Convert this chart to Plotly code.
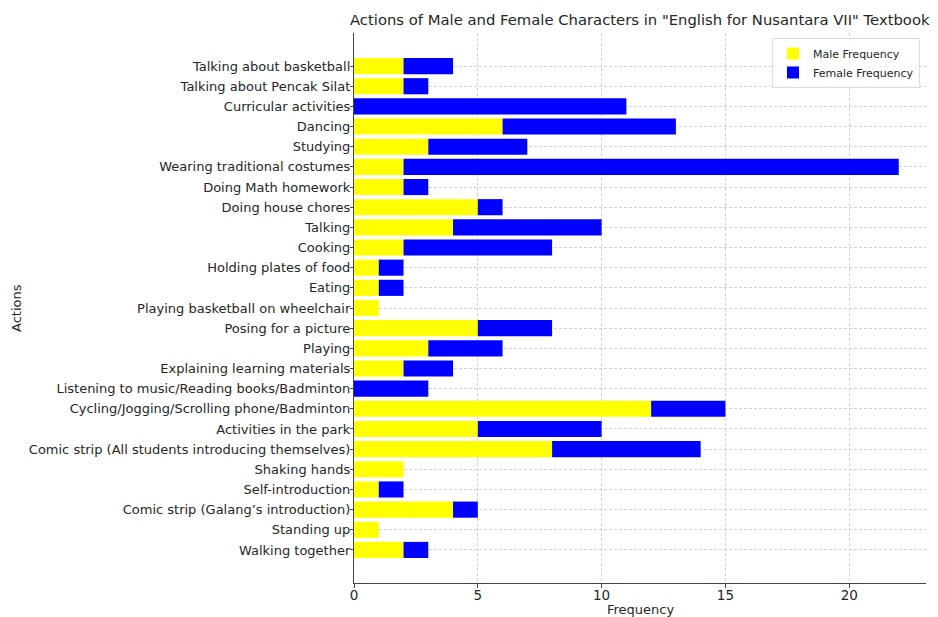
import plotly.graph_objects as go

actions = [
    "Talking about basketball",
    "Talking about Pencak Silat",
    "Curricular activities",
    "Dancing",
    "Studying",
    "Wearing traditional costumes",
    "Doing Math homework",
    "Doing house chores",
    "Talking",
    "Cooking",
    "Holding plates of food",
    "Eating",
    "Playing basketball on wheelchair",
    "Posing for a picture",
    "Playing",
    "Explaining learning materials",
    "Listening to music/Reading books/Badminton",
    "Cycling/Jogging/Scrolling phone/Badminton",
    "Activities in the park",
    "Comic strip (All students introducing themselves)",
    "Shaking hands",
    "Self-introduction",
    "Comic strip (Galang\u2019s introduction)",
    "Standing up",
    "Walking together",
]
male = [2, 2, 0, 6, 3, 2, 2, 5, 4, 2, 1, 1, 1, 5, 3, 2, 0, 12, 5, 8, 2, 1, 4, 1, 2]
female = [2, 1, 11, 7, 4, 20, 1, 1, 6, 6, 1, 1, 0, 3, 3, 2, 3, 3, 5, 6, 0, 1, 1, 0, 1]

# plot bottom-to-top
cats = actions[::-1]
m = male[::-1]
f = female[::-1]

fig = go.Figure()
fig.add_trace(go.Bar(y=cats, x=m, orientation="h", name="Male Frequency",
                     marker=dict(color="#ffff00", line=dict(width=0))))
fig.add_trace(go.Bar(y=cats, x=f, base=m, orientation="h", name="Female Frequency",
                     marker=dict(color="#0000ff", line=dict(width=0))))

font = "DejaVu Sans, Verdana, sans-serif"
L, R, T, B = 354, 926, 33, 583
PW, PH = R - L, B - T
fig.update_layout(
    width=938, height=617,
    margin=dict(l=L, r=938 - R, t=T, b=617 - B, autoexpand=False),
    paper_bgcolor="white", plot_bgcolor="white",
    barmode="overlay", bargap=0.2,
    font=dict(family=font, size=13, color="#262626"),
    showlegend=True,
    legend=dict(x=(920 - L) / PW, xanchor="right", y=1 - 5 / PH, yanchor="top",
                bgcolor="rgba(255,255,255,0.8)", bordercolor="#dddddd", borderwidth=1,
                font=dict(size=11, color="#262626"), tracegroupgap=0),
    annotations=[
        dict(text='Actions of Male and Female Characters in "English for Nusantara VII" Textbook',
             xref="paper", yref="paper", x=0.5, y=1 + (T - 20) / PH,
             xanchor="center", yanchor="middle", showarrow=False,
             font=dict(size=14.8, color="#262626")),
        dict(text="Frequency", xref="paper", yref="paper", x=0.5, y=-(609 - B) / PH,
             xanchor="center", yanchor="middle", showarrow=False,
             font=dict(size=13, color="#262626")),
        dict(text="Actions", xref="paper", yref="paper", x=-(L - 16) / PW, y=(B - 308) / PH,
             xanchor="center", yanchor="middle", showarrow=False, textangle=-90,
             font=dict(size=13, color="#262626")),
    ],
)
fig.update_xaxes(
    range=[0, 23.1], tickvals=[0, 5, 10, 15, 20], ticks="outside", ticklen=4,
    tickcolor="#444", showline=True, linecolor="#444", linewidth=1.2,
    showgrid=True, gridcolor="#d3d3d3", griddash="3px,2px", gridwidth=0.8,
    zeroline=False, mirror=False, automargin=False, ticklabelstandoff=-4,
    tickfont=dict(size=13.5),
)
fig.update_yaxes(
    type="category", categoryorder="array", categoryarray=cats,
    range=[-1.64, 24 + 1.64], ticks="outside", ticklen=3, tickcolor="#444",
    showline=True, linecolor="#444", linewidth=1.2,
    showgrid=True, gridcolor="#d3d3d3", griddash="3px,2px", gridwidth=0.8,
    zeroline=False, automargin=False, ticklabelstandoff=-3,
    tickfont=dict(size=13),
)
fig.write_html("out.html", config={"displayModeBar": False},
               post_script="document.body.style.margin='0';")
